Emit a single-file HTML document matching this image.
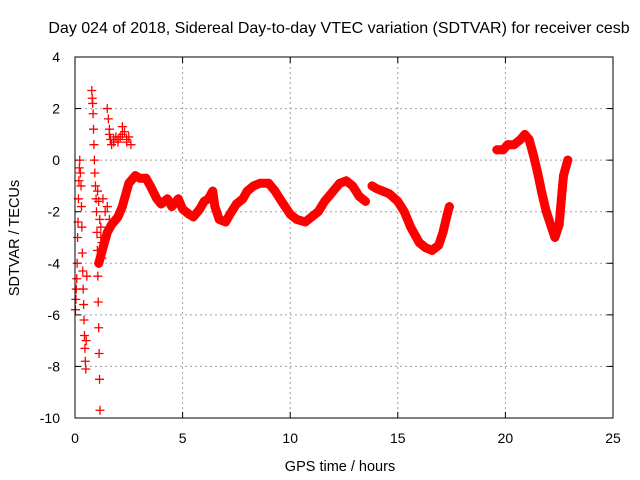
<!DOCTYPE html>
<html><head><meta charset="utf-8"><style>
body{margin:0;background:#fff}
svg{display:block;font-family:"Liberation Sans",sans-serif}
</style></head><body>
<svg id="c" width="640" height="480"></svg>
<script>
const xTicks=[0,5,10,15,20,25];
const yTicks=[4,2,0,-2,-4,-6,-8,-10];
// continuous band (null = gap)
const bandT=[1.1,1.3,1.5,1.7,2.0,2.2,2.5,2.8,3.0,3.3,3.5,3.8,4.0,4.3,4.5,4.8,5.0,5.3,5.5,5.8,6.0,6.2,6.4,6.5,6.7,7.0,7.2,7.5,7.8,8.0,8.3,8.6,9.0,9.3,9.6,10.0,10.3,10.7,11.0,11.3,11.6,12.0,12.3,12.6,12.9,13.2,13.5,null,13.8,14.0,14.3,14.6,15.0,15.3,15.6,16.0,16.3,16.6,16.9,17.1,17.3,17.4,null,19.6,19.9,20.1,20.4,20.7,20.9,21.1,21.3,21.5,21.7,21.9,22.1,22.3,22.5,22.6,22.7,22.9];
const bandV=[-4.0,-3.4,-2.8,-2.5,-2.2,-1.8,-0.9,-0.6,-0.7,-0.7,-1.0,-1.5,-1.7,-1.5,-1.8,-1.5,-1.9,-2.1,-2.2,-1.9,-1.6,-1.5,-1.2,-1.8,-2.3,-2.4,-2.1,-1.7,-1.5,-1.2,-1.0,-0.9,-0.9,-1.2,-1.6,-2.1,-2.3,-2.4,-2.2,-2.0,-1.6,-1.2,-0.9,-0.8,-1.0,-1.4,-1.6,null,-1.0,-1.1,-1.2,-1.3,-1.6,-2.0,-2.6,-3.2,-3.4,-3.5,-3.3,-2.8,-2.1,-1.8,null,0.4,0.4,0.6,0.6,0.8,1.0,0.8,0.2,-0.5,-1.3,-2.0,-2.5,-3.0,-2.5,-1.5,-0.6,0.0];
// scattered early points
const scatT=[0.02,0.04,0.06,0.08,0.1,0.12,0.14,0.16,0.18,0.2,0.22,0.25,0.28,0.3,0.32,0.34,0.36,0.38,0.4,0.42,0.44,0.46,0.48,0.5,0.52,0.55,0.78,0.8,0.82,0.84,0.86,0.88,0.9,0.92,0.95,0.98,1.0,1.02,1.04,1.06,1.08,1.1,1.12,1.14,1.16,1.05,1.1,1.15,1.2,1.25,1.5,1.55,1.6,1.65,1.7,1.8,1.9,2.0,2.1,2.2,2.3,2.4,2.5,2.6,1.3,1.4,1.5,1.6,1.2,1.25,1.6,1.8,2.0,2.2,2.4];
const scatV=[-5.8,-5.4,-5.0,-4.6,-4.0,-3.0,-2.4,-1.5,-0.8,-0.3,0.0,-0.5,-1.0,-1.8,-2.6,-3.6,-4.3,-5.0,-5.6,-6.2,-6.8,-7.3,-7.8,-8.1,-7.0,-4.5,2.7,2.4,2.2,1.8,1.2,0.6,0.0,-0.5,-1.0,-1.5,-2.0,-2.8,-3.5,-4.5,-5.5,-6.5,-7.5,-8.5,-9.7,-1.2,-1.6,-2.3,-3.0,-3.8,2.0,1.6,1.2,0.8,0.6,0.8,0.9,0.7,0.9,1.3,1.1,0.8,0.9,0.6,-1.5,-2.0,-1.8,-2.3,-2.6,-3.2,1.0,0.7,0.8,1.0,0.7];
const svg=document.getElementById('c');
const NS='http://www.w3.org/2000/svg';
const L=75,R=613,T=57,B=418;
const xs=t=>L+(t-0)/25*(R-L);
const ys=v=>B-(v+10)/14*(B-T);
function mk(tag,at,parent){const e=document.createElementNS(NS,tag);for(const k in at)e.setAttribute(k,at[k]);(parent||svg).appendChild(e);return e;}
xTicks.forEach(t=>{if(t>0&&t<25){const g=mk('line',{x1:xs(t),x2:xs(t),y1:T,y2:B,stroke:'#a0a0a0','stroke-dasharray':'2,3'});

}});
yTicks.forEach(v=>{if(v>-10&&v<4){const g=mk('line',{x1:L,x2:R,y1:ys(v),y2:ys(v),stroke:'#a0a0a0','stroke-dasharray':'2,3'});

}});
xTicks.forEach(t=>{mk('line',{x1:xs(t),x2:xs(t),y1:B,y2:B-6,stroke:'#000'});mk('line',{x1:xs(t),x2:xs(t),y1:T,y2:T+6,stroke:'#000'});
const tx=mk('text',{x:xs(t),y:443,'text-anchor':'middle','font-size':14});tx.textContent=t;

});
yTicks.forEach(v=>{mk('line',{x1:L,x2:L+6,y1:ys(v),y2:ys(v),stroke:'#000'});mk('line',{x1:R,x2:R-6,y1:ys(v),y2:ys(v),stroke:'#000'});
const tx=mk('text',{x:60,y:ys(v)+5,'text-anchor':'end','font-size':14});tx.textContent=v;

});
const grp=mk('g',{});


let d='',pen=false;
bandT.forEach((t,i)=>{if(t===null||bandV[i]===null){pen=false;return;}d+=(pen?'L':'M')+xs(t).toFixed(1)+','+ys(bandV[i]).toFixed(1);pen=true;});
const band=mk('path',{d:d,fill:'none',stroke:'#f00','stroke-width':9,'stroke-linejoin':'round','stroke-linecap':'round'},grp);


function plus(t,v,name){const x=xs(t),y=ys(v);const p=mk('path',{d:`M${x-4.5},${y}H${x+4.5}M${x},${y-4.5}V${y+4.5}`,stroke:'#f00','stroke-width':1.3},grp);

}
bandT.forEach((t,i)=>{if(t!==null&&bandV[i]!==null)plus(t,bandV[i],'data-point');});
scatT.forEach((t,i)=>plus(t,scatV[i],'scatter-point'));
const bd=mk('rect',{x:L,y:T,width:R-L,height:B-T,fill:'none',stroke:'#000','stroke-width':1});


const ti=mk('text',{x:339,y:33,'text-anchor':'middle','font-size':16});ti.textContent='Day 024 of 2018, Sidereal Day-to-day VTEC variation (SDTVAR) for receiver cesb';


const xl=mk('text',{x:340,y:471,'text-anchor':'middle','font-size':14.5});xl.textContent='GPS time / hours';


const yl=mk('text',{x:0,y:0,'text-anchor':'middle','font-size':14.5,transform:'translate(19,238) rotate(-90)'});yl.textContent='SDTVAR / TECUs';


</script>
</body></html>
